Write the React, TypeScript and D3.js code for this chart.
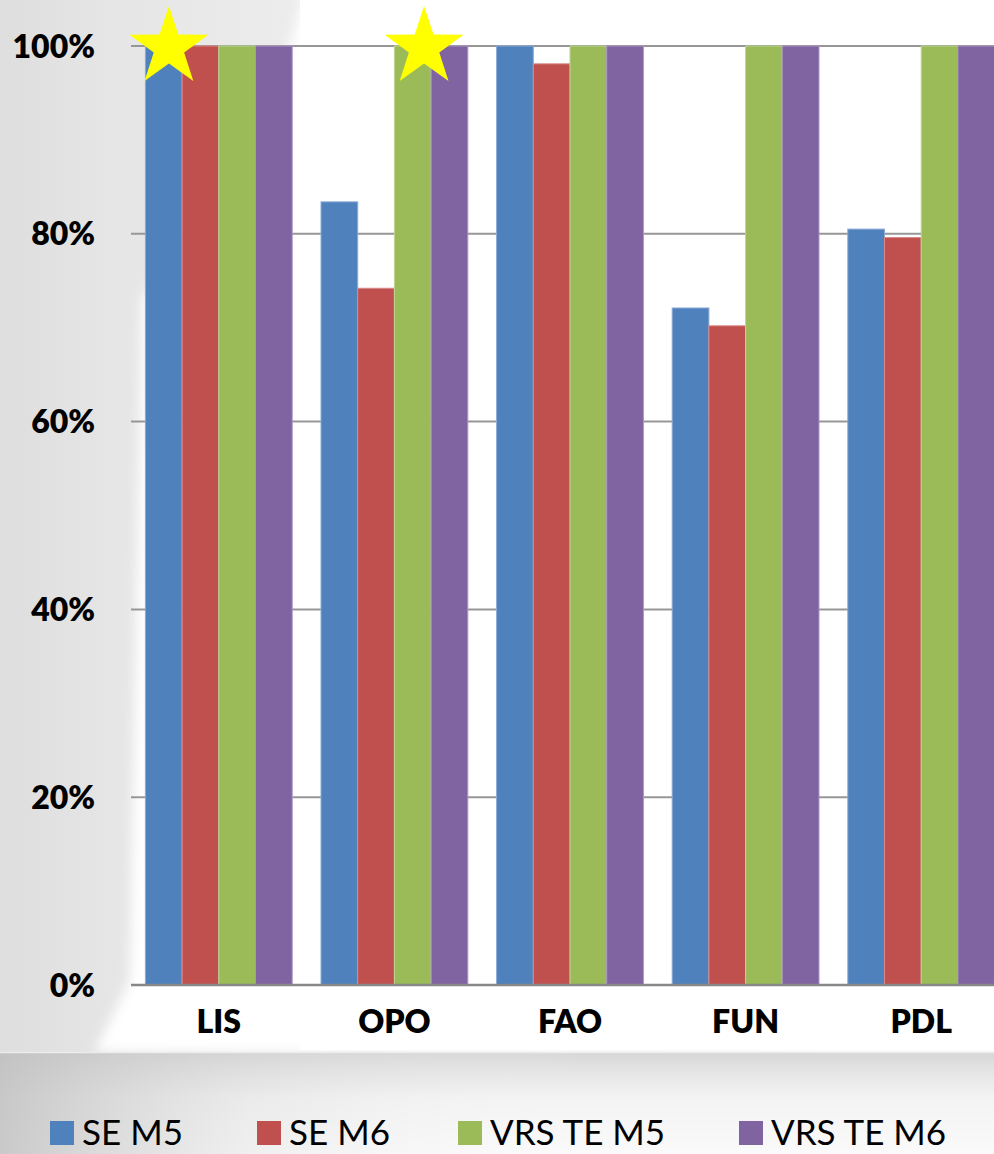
import React from "react";
import * as d3 from "d3";

// Categories (airports) and series
const categories = ["LIS", "OPO", "FAO", "FUN", "PDL"];
const seriesNames = ["SE M5", "SE M6", "VRS TE M5", "VRS TE M6"];

// Share per series, one value per category
const seM5 = [1.0, 0.834, 1.0, 0.721, 0.805];
const seM6 = [1.0, 0.742, 0.981, 0.702, 0.796];
const vrsTeM5 = [1.0, 1.0, 1.0, 1.0, 1.0];
const vrsTeM6 = [1.0, 1.0, 1.0, 1.0, 1.0];
const seriesValues = [seM5, seM6, vrsTeM5, vrsTeM6];

const seriesColors = ["#4F81BD", "#C0504D", "#9BBB59", "#8064A2"];
const seriesStrokes = ["#8aa9d6", "#d98a88", "#bdd494", "#a895c2"];

const yTicks = [0, 0.2, 0.4, 0.6, 0.8, 1.0];

// Star highlights: category, fractional position within the band, value
const starCategories = ["LIS", "OPO"];
const starBandPos = [0.216, 0.669];
const starValues = [1.0, 1.0];

const W = 994;
const H = 1154;

function starPath(cx: number, cy: number, R: number, r: number) {
  const pts: [number, number][] = [];
  for (let i = 0; i < 10; i++) {
    const a = -Math.PI / 2 + (i * Math.PI) / 5;
    const rad = i % 2 === 0 ? R : r;
    pts.push([cx + rad * Math.cos(a), cy + rad * Math.sin(a)]);
  }
  return d3.line()(pts.concat([pts[0]])) as string;
}

export default function App() {
  const plotLeft = 131;
  const bandW = 175.6;
  const x0 = d3
    .scaleBand<string>()
    .domain(categories)
    .range([plotLeft, plotLeft + bandW * categories.length])
    .padding(0);
  const x1 = d3
    .scaleBand<string>()
    .domain(seriesNames)
    .range([14.4, bandW - 14.4])
    .padding(0);
  const y = d3.scaleLinear().domain([0, 1]).range([985, 46]);
  const fmt = d3.format(".0%");

  const font = "Lato, 'Open Sans', sans-serif";
  const legendX = [50, 257, 458, 739];

  return (
    <svg
      width={W}
      height={H}
      viewBox={`0 0 ${W} ${H}`}
      style={{ position: "absolute", left: 0, top: 0, display: "block" }}
    >
      <defs>
        <linearGradient id="bgLeft" x1="0" y1="0" x2="1" y2="0">
          <stop offset="0" stopColor="#dedede" />
          <stop offset="0.12" stopColor="#e6e6e6" />
          <stop offset="0.35" stopColor="#eeeeee" />
          <stop offset="1" stopColor="#f6f6f6" />
        </linearGradient>
        <linearGradient id="bgBottomV" x1="0" y1="0" x2="0" y2="1">
          <stop offset="0" stopColor="#d6d6d6" />
          <stop offset="0.15" stopColor="#e2e2e2" />
          <stop offset="0.45" stopColor="#f3f3f3" />
          <stop offset="1" stopColor="#fafafa" />
        </linearGradient>
        <linearGradient id="bgBottomH" x1="0" y1="0" x2="1" y2="0">
          <stop offset="0" stopColor="#bdbdbd" stopOpacity="0.8" />
          <stop offset="0.25" stopColor="#d0d0d0" stopOpacity="0.25" />
          <stop offset="0.6" stopColor="#ffffff" stopOpacity="0" />
        </linearGradient>
        <filter id="soft" x="-5%" y="-5%" width="110%" height="110%">
          <feGaussianBlur stdDeviation="6" />
        </filter>
      </defs>

      {/* slide background */}
      <rect x={0} y={0} width={W} height={H} fill="url(#bgLeft)" />
      {/* white chart area */}
      <path
        d="M308,-20 L1010,-20 L1010,1052 L95,1052 L130,980 L142,300 L290,46 Z"
        fill="#ffffff"
        filter="url(#soft)"
      />
      <rect x={300} y={0} width={W} height={1050} fill="#ffffff" />
      {/* lower band */}
      <rect x={0} y={1052} width={W} height={H - 1052} fill="url(#bgBottomV)" />
      <rect x={0} y={1052} width={W} height={H - 1052} fill="url(#bgBottomH)" />
      <line x1={0} x2={W} y1={1052.5} y2={1052.5} stroke="#ececec" strokeWidth={1.5} />

      {/* gridlines */}
      {yTicks.slice(1).map((t) => (
        <line
          key={t}
          x1={plotLeft}
          x2={W}
          y1={y(t)}
          y2={y(t)}
          stroke="#979797"
          strokeWidth={2}
        />
      ))}

      {/* bars */}
      {categories.map((c, ci) => (
        <g key={c} transform={`translate(${x0(c)},0)`}>
          {seriesNames.map((s, si) => {
            const v = seriesValues[si][ci];
            return (
              <rect
                key={s}
                x={x1(s)}
                y={y(v)}
                width={x1.bandwidth()}
                height={y(0) - y(v)}
                fill={seriesColors[si]}
                stroke={seriesStrokes[si]}
                strokeWidth={1}
              />
            );
          })}
        </g>
      ))}

      {/* x axis line */}
      <line x1={plotLeft} x2={W} y1={y(0)} y2={y(0)} stroke="#878787" strokeWidth={2.5} />

      {/* y tick labels */}
      {yTicks.map((t) => (
        <text
          key={t}
          x={95}
          y={y(t)}
          dy="0.36em"
          textAnchor="end"
          fontFamily={font}
          fontWeight={800}
          fontSize={32}
          fill="#000"
        >
          {fmt(t)}
        </text>
      ))}

      {/* category labels */}
      {categories.map((c) => (
        <text
          key={c}
          x={(x0(c) as number) + bandW / 2}
          y={1033}
          textAnchor="middle"
          fontFamily={font}
          fontWeight={800}
          fontSize={32}
          fill="#000"
        >
          {c}
        </text>
      ))}

      {/* stars */}
      {starCategories.map((c, i) => (
        <path
          key={c}
          d={starPath((x0(c) as number) + bandW * starBandPos[i], y(starValues[i]) + 1.5, 41.5, 16)}
          fill="#FFFF00"
        />
      ))}

      {/* legend */}
      {seriesNames.map((s, i) => (
        <g key={s} transform={`translate(${legendX[i]},1121)`}>
          <rect x={0} y={0} width={24} height={24} fill={seriesColors[i]} />
          <text x={32} y={24} fontFamily={font} fontSize={35} fill="#000">
            {s}
          </text>
        </g>
      ))}
    </svg>
  );
}
